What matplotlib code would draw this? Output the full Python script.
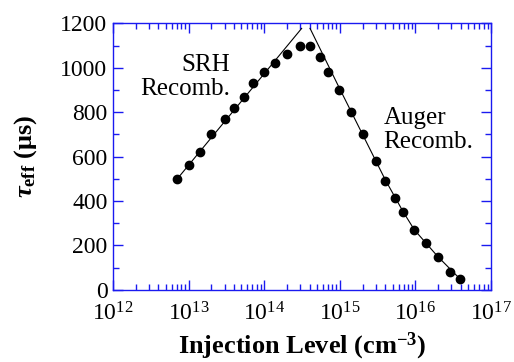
import numpy as np
import matplotlib
matplotlib.use("Agg")
import matplotlib.pyplot as plt
from matplotlib.ticker import LogLocator, MultipleLocator, NullFormatter

plt.rcParams['font.family'] = ['Liberation Serif', 'DejaVu Serif']
plt.rcParams['mathtext.fontset'] = 'custom'
plt.rcParams['mathtext.rm'] = 'Liberation Serif'
plt.rcParams['mathtext.it'] = 'Liberation Serif:bold:italic'
plt.rcParams['mathtext.bf'] = 'Liberation Serif:bold'

# measured effective lifetime vs injection level
injection = [7.1e12, 1.01e13, 1.43e13, 2.0e13, 3.03e13, 4.02e13, 5.46e13, 7.11e13,
             1.0e14, 1.39e14, 2.02e14, 2.98e14, 4.04e14, 5.47e14, 6.92e14,
             9.84e14, 1.39e15, 2.01e15, 2.99e15, 4.0e15, 5.42e15, 6.92e15,
             9.68e15, 1.39e16, 1.97e16, 2.9e16, 3.93e16]
tau_eff = [500, 562, 621, 700, 771, 819, 870, 932,
           980, 1022, 1061, 1100, 1100, 1050, 980,
           900, 801, 700, 579, 492, 415, 349,
           269, 211, 149, 81, 47]

# SRH-limited trend line
srh_x = [7.1e12, 3.13e14]
srh_y = [500, 1178]

# Auger-limited trend line
auger_x = [4.04e14, 1.0e15, 2.0e15, 4.0e15, 6.92e15, 9.68e15, 1.97e16, 3.93e16]
auger_y = [1178, 905, 700, 495, 350, 270, 150, 47]

blue = '#1a1af0'

fig = plt.figure(figsize=(5.14, 3.62), dpi=100)
ax = fig.add_axes([0.2198, 0.1997, 0.7355, 0.7354])

ax.plot(srh_x, srh_y, color='black', lw=0.8)
ax.plot(auger_x, auger_y, color='black', lw=0.8)
ax.plot(injection, tau_eff, 'o', color='black', ms=6, mec='black')

ax.set_xscale('log')
ax.set_xlim(1e12, 1e17)
ax.set_ylim(0, 1200)

ax.xaxis.set_minor_locator(LogLocator(base=10, subs=np.arange(2, 10), numticks=20))
ax.xaxis.set_minor_formatter(NullFormatter())
ax.set_xticks([1e12, 1e13, 1e14, 1e15, 1e16, 1e17])
ax.set_xticklabels(['10$^{%d}$' % e for e in range(12, 18)])
ax.yaxis.set_major_locator(MultipleLocator(200))
ax.yaxis.set_minor_locator(MultipleLocator(100))

for s in ax.spines.values():
    s.set_color(blue)
    s.set_linewidth(1.0)
ax.tick_params(which='both', direction='in', top=True, right=True, color=blue,
               labelsize=17, labelcolor='black')
ax.tick_params(which='major', length=7, width=1.0)
ax.tick_params(which='minor', length=4, width=1.0)
ax.tick_params(axis='x', which='major', pad=9)
ax.tick_params(axis='y', which='major', pad=4)

ax.set_xlabel('Injection Level (cm$^{\\mathbf{-3}}$)', fontsize=19, fontweight='bold',
              labelpad=4)
ax.set_ylabel('$\\tau_{\\mathbf{eff}}$ (μs)', fontsize=19, fontweight='bold', labelpad=15)

ax.text(0.31, 0.886, 'SRH\nRecomb.', transform=ax.transAxes, ha='right', va='top',
        fontsize=18, linespacing=1.1)
ax.text(0.715, 0.685, 'Auger\nRecomb.', transform=ax.transAxes, ha='left', va='top',
        fontsize=18, linespacing=1.1)

fig.savefig('out.png', dpi=100)
